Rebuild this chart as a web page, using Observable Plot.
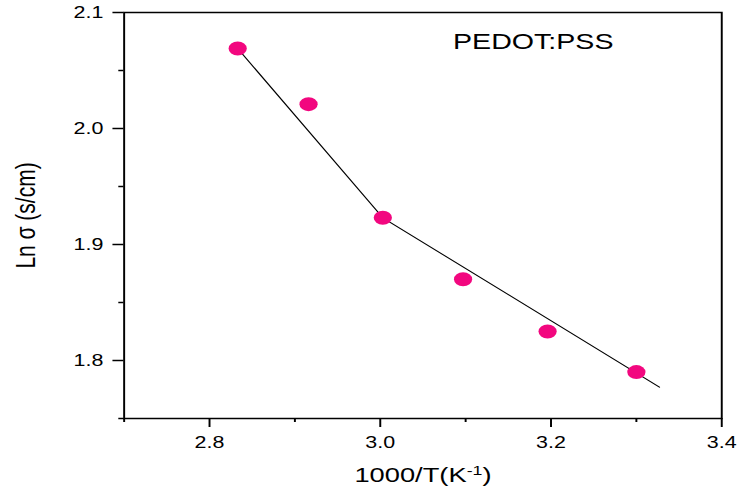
<!DOCTYPE html>
<html>
<head>
<meta charset="utf-8">
<script src="https://cdn.jsdelivr.net/npm/d3@7"></script>
<script src="https://cdn.jsdelivr.net/npm/@observablehq/plot@0.6"></script>
<style>
  html, body { margin: 0; padding: 0; background: #fff; }
  #chart { width: 738px; height: 494px; overflow: hidden; }
</style>
</head>
<body>
<div id="chart"></div>
<script>
// Data
const invT = [2.833, 2.916, 3.003, 3.097, 3.196, 3.300];      // 1000/T (K^-1)
const lnSigma = [2.069, 2.021, 1.923, 1.870, 1.825, 1.790];   // Ln σ (s/cm)
const fitX = [2.833, 3.003, 3.327];                           // fitted line vertices
const fitY = [2.069, 1.923, 1.777];
const xMajor = [2.8, 3.0, 3.2, 3.4];
const xMinor = [2.7, 2.9, 3.1, 3.3];
const yMajor = [1.8, 1.9, 2.0, 2.1];
const yMinor = [1.75, 1.85, 1.95, 2.05];

const points = invT.map((x, i) => ({x, y: lnSigma[i]}));
const fit = fitX.map((x, i) => ({x, y: fitY[i]}));

const S = 1.3;            // horizontal stretch of the original figure
const W = 738 / S;
const H = 494;
const font = "'Liberation Sans', Arial, sans-serif";

const chart = Plot.plot({
  width: W,
  height: H,
  marginLeft: 95,
  marginRight: 13,
  marginTop: 12,
  marginBottom: 76,
  x: {domain: [2.7, 3.4]},
  y: {domain: [1.75, 2.1]},
  style: {fontFamily: font, background: "#fff", color: "#000"},
  marks: [
    Plot.axisX({ticks: xMajor, tickSize: 9, tickPadding: 9, tickFormat: d => d.toFixed(1), fontSize: 16.5, label: null, strokeWidth: 1.5}),
    Plot.axisX({ticks: xMinor, tickSize: 4, tickFormat: () => "", label: null, strokeWidth: 1.5}),
    Plot.axisY({ticks: yMajor, tickSize: 8.5, tickPadding: 7.5, tickFormat: d => d.toFixed(1), fontSize: 16.5, label: null, strokeWidth: 1.5}),
    Plot.axisY({ticks: yMinor, tickSize: 4, tickFormat: () => "", label: null, strokeWidth: 1.5}),
    Plot.frame({stroke: "#000", strokeWidth: 1.5}),
    Plot.line(fit, {x: "x", y: "y", stroke: "#000", strokeWidth: 1}),
    Plot.dot(points, {x: "x", y: "y", r: 7, fill: "#f2077f", stroke: "none"}),
    Plot.text(["PEDOT:PSS"], {frameAnchor: "top-left", dx: 253, dy: 21, lineAnchor: "top", textAnchor: "start", fontSize: 22, fill: "#000"}),
    Plot.text(["1000/T(K-1)"], {frameAnchor: "bottom", dy: 57, lineAnchor: "middle", textAnchor: "middle", fontSize: 21, fill: "#000", className: "xlabel"}),
    Plot.text(["Ln σ (s/cm)"], {frameAnchor: "left", dx: -75, rotate: -90, lineAnchor: "middle", textAnchor: "middle", fontSize: 21, fill: "#000"})
  ]
});

// superscript for K^-1
d3.select(chart).selectAll("text").each(function() {
  if (this.textContent === "1000/T(K-1)") {
    const t = d3.select(this);
    t.text(null);
    t.append("tspan").text("1000/T(K");
    t.append("tspan").attr("baseline-shift", "super").attr("font-size", "65%").text("-1");
    t.append("tspan").text(")");
  }
});

chart.setAttribute("width", 738);
chart.setAttribute("height", H);
chart.setAttribute("viewBox", `0 0 ${W} ${H}`);
chart.setAttribute("preserveAspectRatio", "none");
chart.style.width = "738px";
chart.style.height = H + "px";
chart.style.maxWidth = "none";
document.getElementById("chart").appendChild(chart);
</script>
</body>
</html>
